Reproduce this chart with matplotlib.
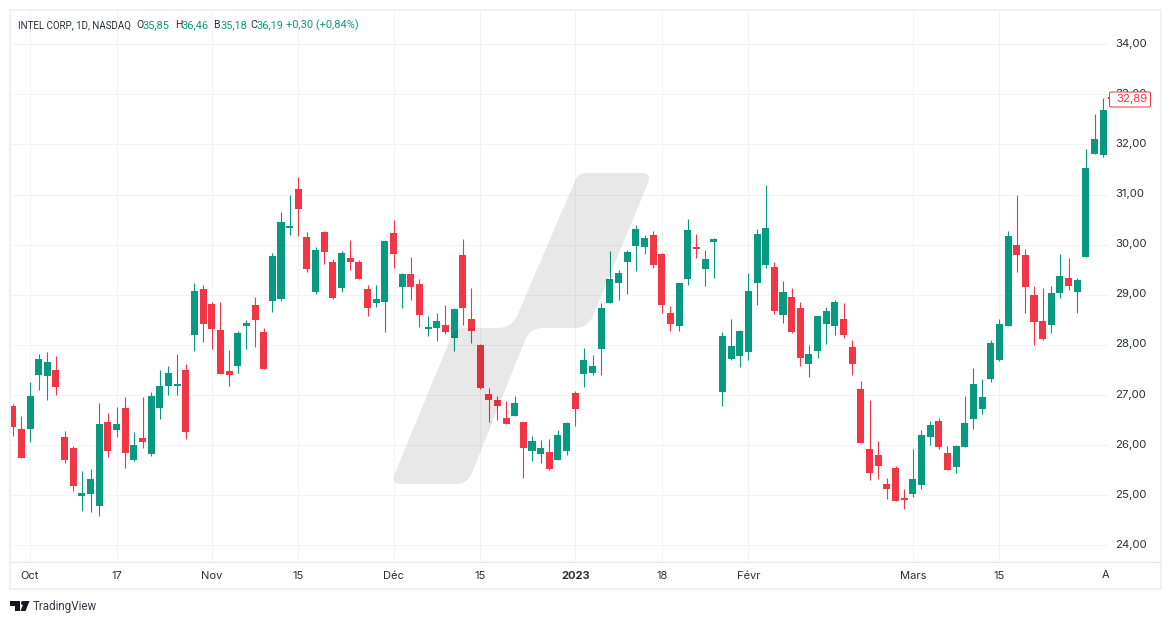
import numpy as np
import matplotlib
matplotlib.use("Agg")
import matplotlib.pyplot as plt
from matplotlib.patches import PathPatch, Polygon, Circle, FancyBboxPatch, Rectangle
from matplotlib.path import Path
from matplotlib.transforms import ScaledTranslation

# --------------------------------------------------------------
# Data (daily candles)
# --------------------------------------------------------------

opens = [
    26.78, 26.33, 26.33, 27.39, 27.37, 27.49, 26.17, 25.95, 24.99, 25.03,
    24.79, 26.47, 26.31, 26.75, 25.71, 26.15, 25.83, 26.75, 27.19, 27.19,
    27.49, 28.19, 29.11, 28.81, 28.29, 27.47, 27.57, 28.37, 28.79, 28.25,
    28.87, 28.91, 30.33, 31.11, 30.15, 29.05, 30.25, 29.65, 29.13, 29.73,
    29.65, 29.11, 28.83, 28.85, 30.23, 29.15, 29.41, 29.21, 28.31, 28.33,
    28.39, 28.13, 29.79, 28.51, 27.99, 27.03, 26.91, 26.55, 26.59, 26.47,
    25.89, 25.83, 25.87, 25.71, 25.89, 27.05, 27.41, 27.43, 27.91, 28.84,
    29.24, 29.65, 29.97, 29.95, 30.19, 29.81, 28.63, 28.37, 29.31, 29.95,
    29.51, 30.05, 27.06, 27.71, 27.77, 27.85, 29.23, 29.59, 29.55, 28.59,
    28.95, 28.73, 27.61, 27.87, 28.41, 28.37, 28.52, 27.95, 27.13, 25.93,
    25.81, 25.23, 25.55, 24.95, 25.03, 25.21, 26.17, 26.49, 25.85, 25.57,
    25.97, 26.53, 26.73, 27.33, 27.69, 28.38, 29.99, 29.79, 28.99, 28.48,
    28.40, 29.03, 29.33, 29.05, 29.75, 31.81, 31.79,
]
closes = [
    26.36, 25.75, 26.99, 27.71, 27.65, 27.17, 25.71, 25.19, 25.05, 25.33,
    26.43, 25.89, 26.43, 25.85, 26.01, 26.07, 26.99, 27.19, 27.43, 27.23,
    26.27, 29.07, 28.41, 28.31, 27.41, 27.39, 28.23, 28.43, 28.49, 27.51,
    29.77, 30.45, 30.37, 30.71, 29.51, 29.89, 29.85, 28.93, 29.83, 29.65,
    29.31, 28.73, 28.91, 30.07, 29.81, 29.41, 29.15, 28.59, 28.35, 28.47,
    28.25, 28.71, 28.73, 28.27, 27.15, 26.91, 26.79, 26.43, 26.85, 25.95,
    26.09, 25.95, 25.53, 26.21, 26.45, 26.73, 27.69, 27.57, 28.74, 29.31,
    29.44, 29.85, 30.31, 30.13, 29.59, 28.79, 28.41, 29.23, 30.29, 29.91,
    29.71, 30.11, 28.18, 27.97, 28.28, 29.07, 30.21, 30.33, 28.67, 29.05,
    28.25, 27.73, 27.81, 28.57, 28.67, 28.85, 28.20, 27.61, 26.05, 25.45,
    25.59, 25.13, 24.89, 24.91, 25.33, 26.21, 26.41, 25.97, 25.51, 25.99,
    26.45, 27.23, 26.97, 28.03, 28.42, 30.18, 29.79, 29.15, 28.46, 28.12,
    29.03, 29.37, 29.17, 29.29, 31.53, 32.11, 32.68,
]
highs = [
    26.82, 26.59, 27.27, 27.81, 27.85, 27.77, 26.29, 25.99, 25.49, 25.53,
    26.85, 26.65, 26.77, 26.97, 26.27, 26.97, 27.07, 27.49, 27.57, 27.81,
    27.61, 29.23, 29.19, 28.85, 28.85, 27.89, 28.27, 28.49, 28.95, 28.33,
    29.83, 30.65, 31.00, 31.35, 30.25, 29.95, 30.27, 29.71, 29.87, 30.09,
    29.69, 29.19, 29.19, 30.09, 30.49, 29.43, 29.75, 29.31, 28.57, 28.63,
    28.79, 28.73, 30.11, 29.13, 28.01, 27.15, 26.99, 26.89, 26.99, 26.47,
    26.19, 26.11, 26.13, 26.31, 26.47, 27.09, 27.93, 27.79, 28.84, 29.87,
    29.50, 29.89, 30.39, 30.19, 30.27, 29.83, 28.77, 29.23, 30.51, 30.21,
    29.89, 30.13, 28.26, 28.52, 28.30, 29.43, 30.31, 31.19, 29.65, 29.27,
    29.13, 28.85, 28.00, 28.57, 28.75, 28.89, 28.83, 28.09, 27.29, 26.91,
    26.09, 25.35, 25.59, 25.13, 25.93, 26.31, 26.49, 26.55, 25.99, 26.01,
    26.99, 27.53, 27.33, 28.10, 28.52, 30.28, 31.00, 29.91, 29.17, 29.13,
    29.17, 29.81, 29.73, 29.33, 31.91, 32.61, 32.92,
]
lows = [
    26.18, 25.75, 26.07, 27.11, 26.91, 27.01, 25.65, 25.09, 24.69, 24.67,
    24.59, 25.77, 26.17, 25.55, 25.69, 25.95, 25.79, 26.53, 27.01, 27.01,
    26.13, 27.87, 28.06, 27.91, 27.41, 27.19, 27.43, 27.91, 27.95, 27.51,
    28.65, 28.87, 30.19, 30.17, 29.45, 29.01, 29.61, 28.91, 29.05, 29.49,
    29.31, 28.57, 28.75, 28.25, 29.53, 28.73, 28.89, 28.35, 28.17, 28.07,
    28.21, 27.87, 28.39, 28.03, 27.13, 26.47, 26.51, 26.43, 26.59, 25.35,
    25.69, 25.65, 25.51, 25.71, 25.81, 26.39, 27.17, 27.39, 27.39, 28.84,
    28.90, 29.01, 29.47, 29.81, 29.53, 28.63, 28.27, 28.27, 29.19, 29.73,
    29.17, 29.33, 26.79, 27.69, 27.55, 27.69, 28.79, 29.53, 28.61, 28.43,
    28.23, 27.57, 27.35, 27.73, 28.01, 28.19, 28.14, 27.39, 26.05, 25.31,
    25.33, 24.93, 24.89, 24.73, 24.97, 25.13, 26.01, 25.93, 25.51, 25.45,
    25.97, 26.33, 26.63, 27.27, 27.67, 28.38, 29.45, 28.63, 27.99, 28.10,
    28.24, 28.93, 29.09, 28.63, 29.75, 31.81, 31.75,
]

price_ticks = [24, 25, 26, 27, 28, 29, 30, 31, 32, 33, 34]
time_ticks = [2, 12, 23, 33, 44, 54, 65, 75, 85, 104, 114]
time_labels = ["Oct", "17", "Nov", "15", "Déc", "15", "2023", "18", "Févr", "Mars", "15"]
last_price = "32,89"

# --------------------------------------------------------------
# Figure settings
# --------------------------------------------------------------

plt.rcParams["font.family"] = ["Inter", "DejaVu Sans"]

UP = "#089981"
DOWN = "#F23645"
GRID = "#F2F3F6"
TEXT = "#2A2E39"
W, H = 1171, 624
PX = 0.72  # one pixel in points at dpi 100

fig = plt.figure(figsize=(W / 100, H / 100), dpi=100, facecolor="white")

# plot pane runs from x=11 to x=1108 and y=11 to y=561 in pixels
ax = fig.add_axes([11 / W, 1 - 561 / H, 1097 / W, 550 / H], zorder=1)
ax.set_xlim(-0.196, 126.55)
ax.set_ylim(23.69, 34.66)

# --------------------------------------------------------------
# Candles
# --------------------------------------------------------------

x = np.arange(len(opens))
o = np.array(opens)
c = np.array(closes)
colors = [UP if cl >= op else DOWN for op, cl in zip(opens, closes)]

ax.vlines(x, lows, highs, color=colors, lw=1.1 * PX, zorder=3)
ax.bar(x, np.abs(c - o), bottom=np.minimum(o, c), width=0.81, color=colors, lw=0, zorder=4)

# --------------------------------------------------------------
# Axes and grid
# --------------------------------------------------------------

ax.set_yticks(price_ticks)
ax.set_yticklabels([f"{p},00" for p in price_ticks])
ax.yaxis.tick_right()
ax.set_xticks(time_ticks)
ax.set_xticklabels(time_labels)
ax.tick_params(axis="both", length=0, labelsize=8, labelcolor=TEXT)
ax.tick_params(axis="y", labelsize=8.2, pad=5.2)
ax.tick_params(axis="x", pad=7)
ax.get_xticklabels()[6].set_fontweight("bold")
ax.grid(True, color=GRID, lw=1 * PX, zorder=0)
ax.set_axisbelow(True)
for side in ax.spines:
    ax.spines[side].set_visible(False)

# price labels sit a bit above their gridline
lift = ScaledTranslation(0, 1.5 * PX / 72, fig.dpi_scale_trans)
for label in ax.get_yticklabels():
    label.set_transform(label.get_transform() + lift)

# --------------------------------------------------------------
# Overlay in pixel coordinates: frame, watermark, legend, logo
# --------------------------------------------------------------

top = fig.add_axes([0, 0, 1, 1], zorder=2)
top.set_xlim(0, W)
top.set_ylim(H, 0)
top.axis("off")
top.patch.set_alpha(0)

top.add_patch(Rectangle((10, 10), 1151, 579, fill=False, ec="#F0F1F6", lw=2 * PX))
top.plot([11, 1160], [561.5, 561.5], color="#E6E8EF", lw=1.3 * PX)

# watermark
L, Q = Path.LINETO, Path.CURVE3
logo_pts = [
    (Path.MOVETO, (575, 181)), (Q, (578, 173)), (Q, (586, 173)),
    (L, (641, 173)), (Q, (652, 173)), (Q, (648, 183)),
    (L, (593, 316)), (Q, (588, 328)), (Q, (575, 328)),
    (L, (543, 328)), (Q, (530, 328)), (Q, (525, 340)),
    (L, (472, 473)), (Q, (467, 484)), (Q, (457, 484)),
    (L, (401, 484)), (Q, (390, 484)), (Q, (395, 473)),
    (L, (450, 340)), (Q, (455, 328)), (Q, (463, 328)),
    (L, (498, 328)), (Q, (511, 328)), (Q, (517, 316)),
    (L, (575, 181)),
]
path = Path([p for _, p in logo_pts], [k for k, _ in logo_pts])
top.add_patch(PathPatch(path, fc="black", ec="none", alpha=0.09))

# legend line
legend_parts = [
    (18, "INTEL CORP, 1D, NASDAQ", TEXT, 7.0), (136.5, "O", TEXT, 7.6), (142.7, "35,85", UP, 7.9),
    (175, "H", TEXT, 7.6), (181.7, "36,46", UP, 7.9), (213.3, "B", TEXT, 7.6), (220, "35,18", UP, 7.9),
    (250, "C", TEXT, 7.6), (256, "36,19", UP, 7.9), (285.7, "+0,30 (+0,84%)", UP, 7.9),
]
for px, label, col, size in legend_parts:
    top.text(px, 25.5, label, color=col, fontsize=size, ha="left", va="center",
             family=["Roboto", "DejaVu Sans"])

# cut off last date label and the price label
top.text(1106, 575, "A", color=TEXT, fontsize=8, ha="center", va="center")
top.add_patch(FancyBboxPatch((1109.5, 92), 41, 15, boxstyle="round,pad=0,rounding_size=1.5",
                             fc="white", ec=DOWN, lw=1 * PX))
top.plot([1108, 1109.5], [98, 98], color=DOWN, lw=2 * PX, solid_capstyle="butt")
top.text(1131.5, 99.5, last_price, color=DOWN, fontsize=8.2, ha="center", va="center")

# TradingView logo
top.add_patch(Polygon([(10, 601), (20, 601), (20, 611), (15, 611), (15, 606), (10, 606)], fc="#131722", ec="none"))
top.add_patch(Circle((23, 603), 2, fc="#131722", ec="none"))
top.add_patch(Polygon([(24.5, 601), (29.5, 601), (25.5, 611), (20.5, 611)], fc="#131722", ec="none"))
top.text(33, 606.5, "TradingView", color="#363A45", fontsize=8.4, ha="left", va="center",
         family=["Roboto", "DejaVu Sans"])

fig.savefig("out.png", dpi=100)
